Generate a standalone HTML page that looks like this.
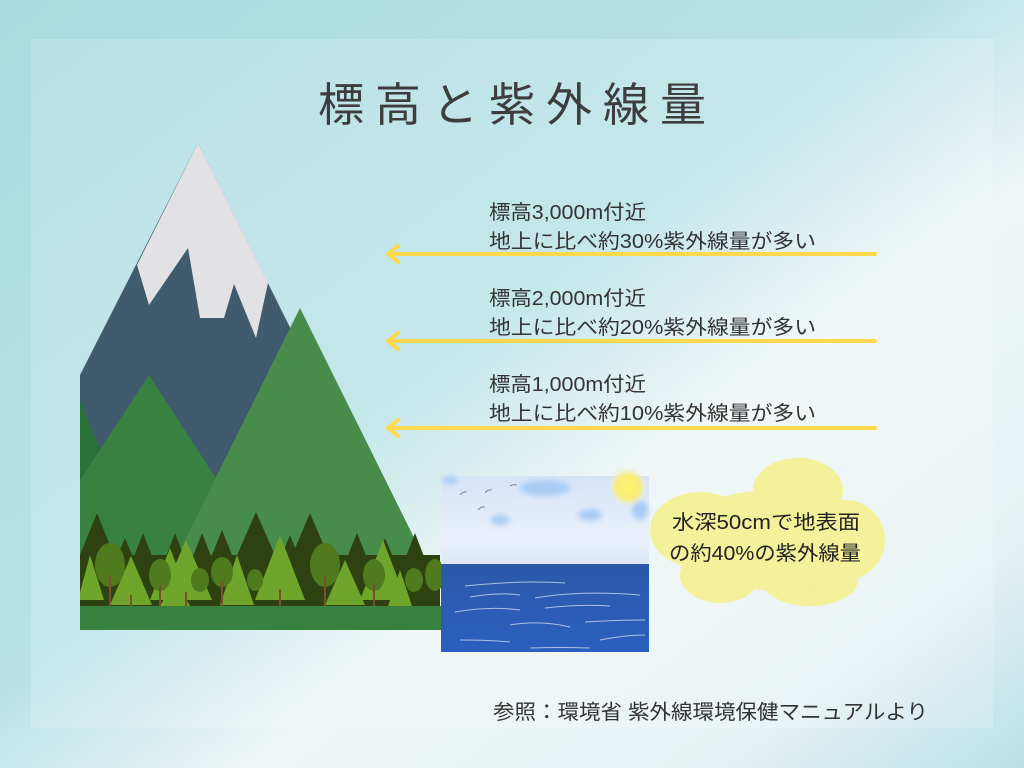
<!DOCTYPE html>
<html><head><meta charset="utf-8">
<style>
html,body{margin:0;padding:0;width:1024px;height:768px;overflow:hidden;}
body{font-family:"Liberation Sans","Noto Sans CJK JP",sans-serif;}
text{font-family:"Liberation Sans","Noto Sans CJK JP",sans-serif;}
</style></head><body>
<svg width="1024" height="768" viewBox="0 0 1024 768" xmlns="http://www.w3.org/2000/svg">
<defs>
<linearGradient id="bg" x1="0" y1="0" x2="1" y2="1">
<stop offset="0" stop-color="#a9dbe0"/>
<stop offset="0.45" stop-color="#b8e2e6"/>
<stop offset="0.62" stop-color="#eef5f6"/>
<stop offset="0.85" stop-color="#e6f1f3"/>
<stop offset="1" stop-color="#b9e1e6"/>
</linearGradient>
<linearGradient id="sky" x1="0" y1="0" x2="0" y2="1">
<stop offset="0" stop-color="#d6e4f8"/><stop offset="0.7" stop-color="#eaf0fb"/><stop offset="1" stop-color="#dfe8f7"/>
</linearGradient>
<linearGradient id="sea" x1="0" y1="0" x2="0" y2="1">
<stop offset="0" stop-color="#2c5aa8"/><stop offset="1" stop-color="#2a5fbf"/>
</linearGradient>
<radialGradient id="sun"><stop offset="0" stop-color="#fff36a"/><stop offset="0.6" stop-color="#f7ec7a"/><stop offset="1" stop-color="#f0f0d0" stop-opacity="0"/></radialGradient>
<filter id="blur"><feGaussianBlur stdDeviation="3"/></filter>
<clipPath id="fc"><rect x="80" y="400" width="361" height="230"/></clipPath>
</defs>
<rect width="1024" height="768" fill="url(#bg)"/>
<rect x="31" y="39" width="962" height="689" fill="#ffffff" opacity="0.18"/>

<text x="318" y="121" font-size="46" fill="#3d3d3d" textLength="388" lengthAdjust="spacing">標高と紫外線量</text>

<polygon points="80,375 198,143 441,630 80,630" fill="#3f5b6d"/>
<polygon points="198,143 137,265 149,305 188,248 200,318 224,318 234,284 256,338 268,283" fill="#e2e2e4"/>
<polygon points="80,400 122,505 80,560" fill="#2b7239"/>
<polygon points="80,480 149,375 230,500 230,630 80,630" fill="#388140"/>
<polygon points="300,308 440,590 440,630 170,630 170,570" fill="#488c4b"/>

<g clip-path="url(#fc)">
<rect x="80" y="555" width="360" height="51" fill="#2d4210"/>
<g fill="#2d4210">
<polygon points="97,513 78,560 116,560"/><polygon points="97,528 76,578 118,578"/>
<polygon points="125,538 105,585 145,585"/>
<polygon points="143,533 123,585 163,585"/>
<polygon points="175,533 155,585 195,585"/>
<polygon points="202,533 180,590 224,590"/>
<polygon points="222,530 200,585 244,585"/>
<polygon points="256,512 234,562 278,562"/><polygon points="256,528 230,588 282,588"/>
<polygon points="290,535 270,585 310,585"/>
<polygon points="310,513 288,565 332,565"/><polygon points="310,530 284,592 336,592"/>
<polygon points="357,533 336,585 378,585"/>
<polygon points="385,538 365,585 405,585"/>
<polygon points="415,533 394,588 436,588"/>
</g>
<g fill="#6fa52a">
<polygon points="90,555 78,600 104,600"/>
<polygon points="131,556 110,605 152,605"/>
<polygon points="170,548 150,600 190,600"/>
<polygon points="186,540 160,600 212,600"/>
<polygon points="237,555 220,605 254,605"/>
<polygon points="280,535 255,600 305,600"/>
<polygon points="345,560 325,605 365,605"/>
<polygon points="383,540 360,600 406,600"/>
<polygon points="175,580 160,606 190,606"/>
<polygon points="400,570 388,606 412,606"/>
</g>
<g fill="#4f7a1d">
<ellipse cx="110" cy="565" rx="15" ry="22"/>
<ellipse cx="160" cy="575" rx="11" ry="16"/>
<ellipse cx="200" cy="580" rx="9" ry="12"/>
<ellipse cx="222" cy="572" rx="11" ry="15"/>
<ellipse cx="255" cy="580" rx="8" ry="11"/>
<ellipse cx="325" cy="565" rx="15" ry="22"/>
<ellipse cx="374" cy="575" rx="11" ry="16"/>
<ellipse cx="414" cy="580" rx="9" ry="12"/>
<ellipse cx="435" cy="575" rx="10" ry="16"/>
</g>
<g stroke="#7a4f2a" stroke-width="2">
<line x1="110" y1="575" x2="110" y2="606"/><line x1="160" y1="585" x2="160" y2="606"/>
<line x1="222" y1="582" x2="222" y2="606"/><line x1="325" y1="575" x2="325" y2="606"/>
<line x1="374" y1="585" x2="374" y2="606"/><line x1="280" y1="590" x2="280" y2="606"/>
<line x1="186" y1="592" x2="186" y2="606"/><line x1="131" y1="595" x2="131" y2="606"/>
</g>
</g>
<rect x="80" y="606" width="361" height="24" fill="#388140"/>

<rect x="441" y="476" width="208" height="88" fill="url(#sky)"/>
<g fill="#a8ccf4" filter="url(#blur)">
<ellipse cx="545" cy="488" rx="25" ry="8"/><ellipse cx="590" cy="515" rx="12" ry="6"/>
<ellipse cx="500" cy="520" rx="10" ry="5"/><ellipse cx="640" cy="510" rx="8" ry="10"/>
<ellipse cx="450" cy="480" rx="8" ry="4"/>
</g>
<circle cx="628" cy="487" r="20" fill="url(#sun)"/>
<rect x="441" y="564" width="208" height="88" fill="url(#sea)"/>
<g stroke="#c9d8f0" stroke-width="1" fill="none" opacity="0.8">
<path d="M465,586 Q520,580 565,583"/><path d="M470,597 Q500,592 520,595"/>
<path d="M535,598 Q580,590 640,595"/><path d="M455,612 Q490,606 520,610"/>
<path d="M545,608 Q580,604 610,606"/><path d="M510,625 Q540,620 570,627"/>
<path d="M585,622 Q620,620 645,620"/><path d="M460,640 Q490,640 510,642"/>
<path d="M600,640 Q625,635 645,635"/><path d="M530,648 Q560,647 590,648"/>
</g>
<g stroke="#777" stroke-width="0.8" fill="none">
<path d="M460,495 q3,-4 7,-3"/><path d="M485,493 q3,-4 7,-3"/><path d="M510,486 q3,-2 7,-1"/><path d="M478,510 q3,-4 7,-3"/>
</g>

<g fill="#f3f19a">
<ellipse cx="798" cy="490" rx="45" ry="32"/>
<ellipse cx="700" cy="530" rx="50" ry="38"/>
<ellipse cx="845" cy="540" rx="40" ry="40"/>
<ellipse cx="720" cy="575" rx="40" ry="28"/>
<ellipse cx="810" cy="580" rx="48" ry="26"/>
<ellipse cx="770" cy="540" rx="90" ry="50"/>
</g>
<text x="672" y="529" font-size="20" fill="#222" textLength="188" lengthAdjust="spacingAndGlyphs">水深50cmで地表面</text>
<text x="669" y="560" font-size="20" fill="#222" textLength="192" lengthAdjust="spacingAndGlyphs">の約40%の紫外線量</text>

<g stroke="#ffd84d" stroke-width="4" fill="none" stroke-linecap="round" stroke-linejoin="round">
<line x1="388" y1="254" x2="875" y2="254"/><polyline points="398,246 388,254 398,262"/>
<line x1="388" y1="341" x2="875" y2="341"/><polyline points="398,333 388,341 398,349"/>
<line x1="388" y1="428" x2="875" y2="428"/><polyline points="398,420 388,428 398,436"/>
</g>
<g font-size="20" fill="#333">
<text x="489" y="219" textLength="157" lengthAdjust="spacingAndGlyphs">標高3,000m付近</text>
<text x="489" y="248" textLength="327" lengthAdjust="spacingAndGlyphs">地上に比べ約30%紫外線量が多い</text>
<text x="489" y="305" textLength="157" lengthAdjust="spacingAndGlyphs">標高2,000m付近</text>
<text x="489" y="334" textLength="327" lengthAdjust="spacingAndGlyphs">地上に比べ約20%紫外線量が多い</text>
<text x="489" y="391" textLength="157" lengthAdjust="spacingAndGlyphs">標高1,000m付近</text>
<text x="489" y="420" textLength="327" lengthAdjust="spacingAndGlyphs">地上に比べ約10%紫外線量が多い</text>
</g>
<text x="493" y="719" font-size="20.5" fill="#333" textLength="435" lengthAdjust="spacingAndGlyphs">参照：環境省 紫外線環境保健マニュアルより</text>
</svg>
</body></html>
